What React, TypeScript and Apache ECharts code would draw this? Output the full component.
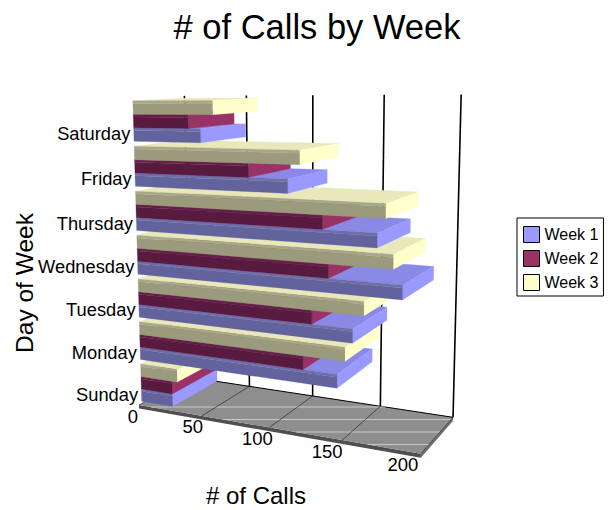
import React, { useEffect, useRef } from "react";
import * as echarts from "echarts";

const days = ["Sunday", "Monday", "Tuesday", "Wednesday", "Thursday", "Friday", "Saturday"];
const week1 = [25, 145, 155, 186, 170, 112, 51];
const week2 = [25, 122, 128, 139, 135, 85, 42];
const week3 = [29, 150, 162, 180, 175, 120, 60];
const ticks = [0, 50, 100, 150, 200];
const weekNames = ["Week 1", "Week 2", "Week 3"];

const W = 613;
const H = 510;
const FONT = "Liberation Sans, Arial, sans-serif";

// three-point perspective of the 3D plot box: u along values, h up, d into the page
const O = [139, 405];
const VX = [-1600, 105];
const VY = [310, 6100];
const VD = [760, 70];
const SX = -0.1395;
const SY = -0.0511;
const SD = 0.09;
function proj(u: number, h: number, d: number): number[] {
  const w = 1 + SX * u + SY * h + SD * d;
  return [
    (VX[0] * SX * u + VY[0] * SY * h + VD[0] * SD * d + O[0]) / w,
    (VX[1] * SX * u + VY[1] * SY * h + VD[1] * SD * d + O[1]) / w,
  ];
}

const faces = [
  { front: "#62629c", shine: "#6e6eaa", top: "#8a8ae6", end: "#9999ff" },
  { front: "#581a3e", shine: "#661e48", top: "#86285a", end: "#993366" },
  { front: "#9a9a7c", shine: "#a8a888", top: "#e8e8ba", end: "#ffffcc" },
];
const D0 = 0.05;
const D1 = 0.95;
const GAP = 0.11;

function barSeries(name: string, values: number[], k: number) {
  return {
    type: "custom",
    name,
    silent: true,
    itemStyle: { color: faces[k].end },
    data: values.map((v, r) => [v, days[r]]),
    encode: { x: 0, y: 1 },
    renderItem: (_p: any, api: any) => {
      const c = api.coord([api.value(0), api.value(1)]);
      const band = api.size([0, 1])[1] / H;
      const zero = api.coord([0, api.value(1)]);
      const u = (c[0] - zero[0]) / W;
      const hc = 1 - c[1] / H;
      const bw = (band * (1 - GAP)) / 3;
      const h0 = hc - (band * (1 - GAP)) / 2 + k * bw;
      const h1 = h0 + bw;
      const hs = h1 - bw * 0.2;
      const z2 = Math.round(hc * 70) * 10 + k;
      const poly = (pts: number[][], fill: string, z: number) => ({
        type: "polygon",
        z2: z2 * 10 + z,
        shape: { points: pts },
        style: { fill, stroke: fill, lineWidth: 0.3 },
      });
      return {
        type: "group",
        children: [
          poly([proj(0, h1, D1), proj(u, h1, D1), proj(u, h1, D0), proj(0, h1, D0)], faces[k].top, 0),
          poly([proj(u, h0, D0), proj(u, h0, D1), proj(u, h1, D1), proj(u, h1, D0)], faces[k].end, 1),
          poly([proj(0, h0, D0), proj(u, h0, D0), proj(u, hs, D0), proj(0, hs, D0)], faces[k].front, 2),
          poly([proj(0, hs, D0), proj(u, hs, D0), proj(u, h1, D0), proj(0, h1, D0)], faces[k].shine, 3),
        ],
      };
    },
  };
}

const FLOOR_T = -0.012;
const SHEEN = [407, 419.5, 432, 444.5];

function sheenSpan(y: number): number[] | null {
  const c = [proj(0, 0, 0), proj(1, 0, 0), proj(1, 0, 1), proj(0, 0, 1)];
  const xs: number[] = [];
  c.forEach((a, i) => {
    const b = c[(i + 1) % 4];
    if ((a[1] - y) * (b[1] - y) < 0) xs.push(a[0] + ((y - a[1]) / (b[1] - a[1])) * (b[0] - a[0]));
  });
  return xs.length === 2 ? [Math.min(...xs), Math.max(...xs)] : null;
}

const floorSeries = {
  type: "custom",
  name: "floor",
  silent: true,
  z: 1,
  data: ticks.map((t) => [t, days[0]]),
  encode: { x: 0, y: 1 },
  renderItem: (p: any, api: any) => {
    const u = api.coord([api.value(0), api.value(1)])[0] / W;
    const children: any[] = [];
    if (p.dataIndex === 0) {
      children.push(
        { type: "polygon", shape: { points: [proj(0, 0, 0), proj(1, 0, 0), proj(1, FLOOR_T, 0), proj(0, FLOOR_T, 0)] }, style: { fill: "#4f4f4f" } },
        { type: "polygon", shape: { points: [proj(1, 0, 0), proj(1, 0, 1), proj(1, FLOOR_T, 1), proj(1, FLOOR_T, 0)] }, style: { fill: "#6e6e6e" } },
        { type: "polygon", shape: { points: [proj(0, 0, 0), proj(1, 0, 0), proj(1, 0, 1), proj(0, 0, 1)] }, style: { fill: "#8e8e8e" } },
        { type: "polyline", shape: { points: [proj(0, 0, 1), proj(1, 0, 1)] }, style: { stroke: "#000", lineWidth: 1, fill: "none" } }
      );
      SHEEN.forEach((y) => {
        const s = sheenSpan(y);
        if (s) {
          children.push({ type: "line", shape: { x1: s[0], y1: y, x2: s[1], y2: y }, style: { stroke: "#c8c8c8", lineWidth: 1 } });
        }
      });
    }
    const a = proj(u, 0, 0);
    const b = proj(u, 0, 1);
    const top = proj(u, 1, 1);
    children.push(
      { type: "line", shape: { x1: a[0], y1: a[1], x2: b[0], y2: b[1] }, style: { stroke: "#2a2a2a", lineWidth: 0.7 } },
      { type: "line", shape: { x1: b[0], y1: b[1], x2: top[0], y2: top[1] }, style: { stroke: "#000", lineWidth: 1.6 } },
      {
        type: "text",
        style: {
          x: a[0] - 6 - u * 12,
          y: a[1] + 11,
          text: String(api.value(0)),
          textAlign: "center",
          textVerticalAlign: "middle",
          fontSize: 18.5,
          fontFamily: FONT,
          fill: "#000",
        },
      }
    );
    return { type: "group", children };
  },
};

const dayLabelSeries = {
  type: "custom",
  name: "days",
  silent: true,
  z: 3,
  data: days.map((d) => [0, d]),
  encode: { x: 0, y: 1 },
  renderItem: (p: any, api: any) => {
    const c = api.coord([0, api.value(1)]);
    const band = api.size([0, 1])[1] / H;
    const hc = 1 - c[1] / H;
    const pt = proj(0, hc - band * 0.31, D0);
    return {
      type: "text",
      style: {
        x: pt[0] - 3.5,
        y: pt[1] - 1.5,
        text: days[p.dataIndex],
        textAlign: "right",
        textVerticalAlign: "middle",
        fontSize: 18.3,
        fontFamily: FONT,
        fill: "#000",
      },
    };
  },
};

export default function App() {
  const ref = useRef<HTMLDivElement>(null);
  useEffect(() => {
    const chart = echarts.init(ref.current!, null, { renderer: "svg" });
    chart.setOption({
      animation: false,
      backgroundColor: "#fff",
      graphic: [
        {
          type: "text",
          x: 317,
          y: 27,
          style: { text: "# of Calls by Week", fontSize: 34.5, fontFamily: FONT, fill: "#000", textAlign: "center", textVerticalAlign: "middle" },
        },
        {
          type: "text",
          x: 24,
          y: 283,
          rotation: Math.PI / 2,
          style: { text: "Day of Week", fontSize: 24.5, fontFamily: FONT, fill: "#000", textAlign: "center", textVerticalAlign: "middle" },
        },
        {
          type: "text",
          x: 256,
          y: 495,
          style: { text: "# of Calls", fontSize: 24, fontFamily: FONT, fill: "#000", textAlign: "center", textVerticalAlign: "middle" },
        },
      ],
      legend: {
        data: weekNames,
        orient: "vertical",
        left: 517,
        top: 218,
        padding: [8, 5, 5, 6],
        icon: "rect",
        itemWidth: 16,
        itemHeight: 16,
        itemGap: 7,
        borderColor: "#000",
        borderWidth: 1,
        itemStyle: { borderColor: "#000", borderWidth: 1 },
        textStyle: { fontSize: 16, fontFamily: FONT, color: "#000" },
        selectedMode: false,
      },
      grid: { left: 0, top: 0, width: W, height: H },
      xAxis: { type: "value", min: 0, max: 200, show: false },
      yAxis: { type: "category", data: days, show: false },
      series: [
        floorSeries,
        barSeries(weekNames[0], week1, 0),
        barSeries(weekNames[1], week2, 1),
        barSeries(weekNames[2], week3, 2),
        dayLabelSeries,
      ],
    });
    return () => chart.dispose();
  }, []);
  return <div ref={ref} style={{ position: "absolute", left: 0, top: 0, width: W, height: H }} />;
}
